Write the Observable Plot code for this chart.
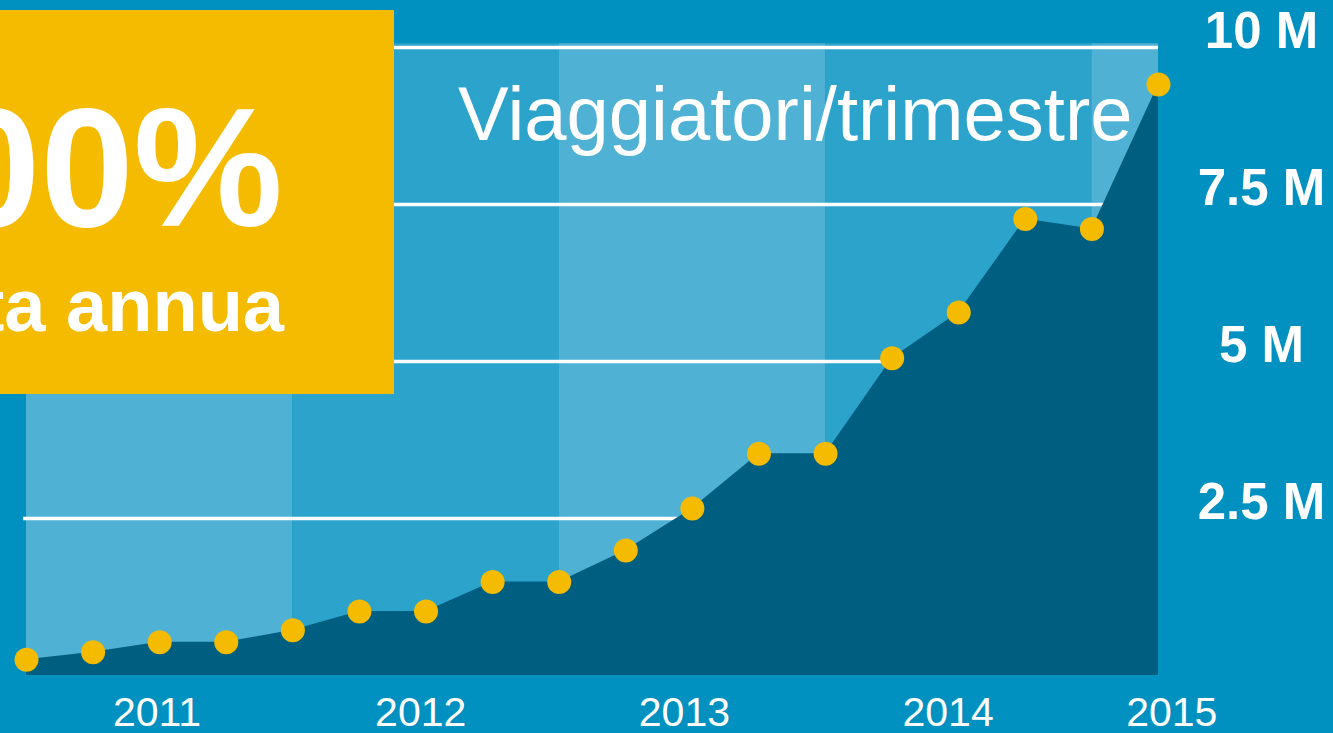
<!DOCTYPE html>
<html>
<head>
<meta charset="utf-8">
<script src="https://cdn.jsdelivr.net/npm/d3@7"></script>
<script src="https://cdn.jsdelivr.net/npm/@observablehq/plot@0.6"></script>
<style>
  html, body { margin: 0; padding: 0; background: #0091c0; overflow: hidden; }
  #chart svg { display: block; }
</style>
</head>
<body>
<div id="chart"></div>
<script>
// ---- data ----
const quarters = [2011, 2011.25, 2011.5, 2011.75, 2012, 2012.25, 2012.5, 2012.75,
                  2013, 2013.25, 2013.5, 2013.75, 2014, 2014.25, 2014.5, 2014.75,
                  2015, 2015.25];
// travellers per quarter, millions
const travellers = [0.25, 0.37, 0.53, 0.53, 0.72, 1.02, 1.02, 1.49, 1.49, 1.99,
                    2.66, 3.53, 3.53, 5.05, 5.78, 7.27, 7.11, 9.41];
const years = [2011, 2012, 2013, 2014, 2015];
const yearLabels = ["2011", "2012", "2013", "2014", "2015"];
const yearLabelPos = [2011.49, 2012.48, 2013.47, 2014.46, 2015.3];
const yTicks = [2.5, 5, 7.5, 10];
const yTickLabels = ["2.5 M", "5 M", "7.5 M", "10 M"];
const title = "Viaggiatori/trimestre";
const badgeBig = "00%";
const badgeSmall = "ta annua";

// ---- derived tables ----
const xEnd = quarters[quarters.length - 1];
const bandTop = 10.06;
const bands = years.map((y, i) => ({x1: y, x2: Math.min(y + 1, xEnd), light: i % 2 === 0}));
const data = quarters.map((q, i) => ({q, v: travellers[i]}));

const plot = Plot.plot({
  width: 1333,
  height: 733,
  marginLeft: 26,
  marginRight: 175,
  marginTop: 47,
  marginBottom: 58,
  x: {domain: [2011, xEnd], axis: null},
  y: {domain: [0, 10], axis: null},
  style: {background: "#0091c0", color: "white", fontFamily: "'Liberation Sans', Arial, sans-serif"},
  marks: [
    Plot.rect(bands, {x1: "x1", x2: "x2", y1: 0, y2: bandTop, fill: d => d.light ? "#4fb1d3" : "#2ba3cb"}),
    Plot.ruleY(yTicks, {stroke: "white", strokeWidth: 3.5, insetLeft: -3}),
    Plot.areaY(data, {x: "q", y: "v", fill: "#005f80"}),
    Plot.dot(data, {x: "q", y: "v", r: 12, fill: "#f5bb00", stroke: "none"}),
    Plot.text(yTicks, {y: d => d, text: (d, i) => yTickLabels[i], frameAnchor: "right", dx: 103,
      textAnchor: "middle", lineAnchor: "bottom", fontSize: 51, fontWeight: "bold", fill: "white"}),
    Plot.text(yearLabels, {x: (d, i) => yearLabelPos[i], text: d => d, frameAnchor: "bottom", dy: 50,
      textAnchor: "middle", lineAnchor: "bottom", fontSize: 41, fill: "white"}),
    Plot.text([title], {text: d => d, frameAnchor: "top-right", dx: -26, dy: 92,
      textAnchor: "end", lineAnchor: "bottom", fontSize: 76, fill: "white"})
  ]
});

// annotation badge (top-left, partially cut off by the page edge as in the original)
const svg = d3.select(plot);
const g = svg.append("g").attr("font-family", "'Liberation Sans', Arial, sans-serif");
g.append("rect").attr("x", 0).attr("y", 10).attr("width", 394).attr("height", 384).attr("fill", "#f5bb00");
g.append("text").attr("x", 283).attr("y", 226).attr("text-anchor", "end")
  .attr("font-size", 168).attr("font-weight", "bold").attr("fill", "white").text(badgeBig);
g.append("text").attr("x", 284).attr("y", 331).attr("text-anchor", "end")
  .attr("font-size", 74).attr("font-weight", "bold").attr("fill", "white").text(badgeSmall);

document.getElementById("chart").appendChild(plot);
</script>
</body>
</html>
